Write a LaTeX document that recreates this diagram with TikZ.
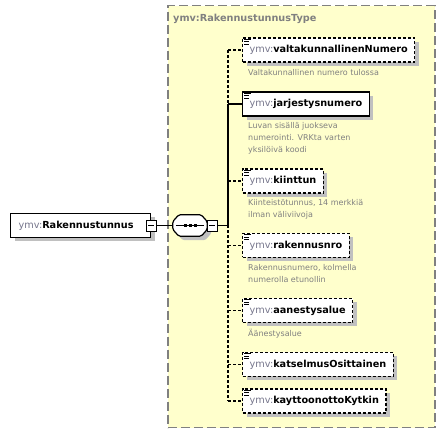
\documentclass[tikz,border=0pt]{standalone}
\usepackage{fontspec}
\setmainfont{DejaVu Sans}
\usetikzlibrary{positioning,calc,shadows}
\definecolor{typefill}{RGB}{255,255,204}
\definecolor{typeborder}{RGB}{128,128,128}
\definecolor{nsgray}{RGB}{118,118,140}
\definecolor{descgray}{RGB}{128,128,128}
\definecolor{shadowgray}{RGB}{192,192,192}
\newcommand{\ymv}[1]{\textcolor{nsgray}{ymv:}\textbf{#1}}

\begin{document}
\begin{tikzpicture}[x=1pt, y=-1pt]
  \tikzstyle{boxshadow}=[general shadow={fill=shadowgray, draw=none, shadow xshift=4pt, shadow yshift=-4pt}]
  \tikzstyle{elem}=[draw, fill=white, line width=1.2pt, anchor=west, minimum height=24pt, inner xsep=7pt,
    font=\fontsize{9.7}{11}\selectfont, boxshadow]
  \tikzstyle{optional}=[elem, dash pattern=on 3pt off 2pt]
  \tikzstyle{desc}=[anchor=north west, align=left, inner sep=0pt, text=descgray, font=\fontsize{8}{12}\selectfont]
  \tikzstyle{minus}=[draw, fill=white, line width=0.8pt, minimum width=10pt, minimum height=11pt, inner sep=0pt,
    path picture={\draw[line width=0.8pt] ($(path picture bounding box.west)+(2pt,0)$) -- ($(path picture bounding box.east)+(-2pt,0)$);}]
  \tikzstyle{conn}=[line width=1.1pt]
  \tikzstyle{optconn}=[conn, dash pattern=on 3pt off 2pt]
  \useasboundingbox (0,0) rectangle (445,435);

  % complex type container
  \node[draw=typeborder, fill=typefill, line width=1.5pt, dash pattern=on 9pt off 4pt, anchor=north west,
    minimum width=267pt, minimum height=422pt] (type) at (167,5) {};
  \node[anchor=west, inner sep=0pt, text=typeborder, font=\fontsize{9.7}{11}\selectfont\bfseries] (title) at (173,19) {ymv:RakennustunnusType};

  % root element and sequence
  \node[elem, inner xsep=8pt, text width=124pt, align=left] (root) at (10,225.5) {\ymv{Rakennustunnus}};
  \node[minus] (m1) at (151,225.5) {};
  \node[minimum width=34pt, minimum height=21pt, inner sep=0pt] (seq) at (190,225.5) {};
  \draw[line width=1.2pt, fill=white, rounded corners=1.5pt, boxshadow]
    ($(seq.west)+(0,-4)$) -- ($(seq.north west)+(6,0)$) -- ($(seq.north east)+(-6,0)$) -- ($(seq.east)+(0,-4)$)
    -- ($(seq.east)+(0,4)$) -- ($(seq.south east)+(-6,0)$) -- ($(seq.south west)+(6,0)$) -- ($(seq.west)+(0,4)$) -- cycle;
  \draw[line width=1pt] ($(seq.west)+(3,0)$) -- ($(seq.east)+(-3,0)$);
  \foreach \dx in {-5,0,5}
    \fill ($(seq)+(\dx,0)+(-1.5,-1.5)$) rectangle ++(3,3);
  \node[minus] (m2) at (212,225.5) {};
  \draw[conn] (m1.east) -- (seq.west);
  \coordinate (trunk) at (228,0);

  % child elements
  \node[optional] (c1) at (242,50) {\ymv{valtakunnallinenNumero}};
  \node[desc] (d1) at (248,69) {Valtakunnallinen numero tulossa};
  \node[elem] (c2) at (242,104) {\ymv{jarjestysnumero}};
  \node[desc] (d2) at (248,122) {Luvan sisällä juokseva\\numerointi. VRKta varten\\yksilöivä koodi};
  \node[optional] (c3) at (242,181) {\ymv{kiinttun}};
  \node[desc] (d3) at (248,199) {Kiinteistötunnus, 14 merkkiä\\ilman väliviivoja};
  \node[optional] (c4) at (242,245.5) {\ymv{rakennusnro}};
  \node[desc] (d4) at (248,264) {Rakennusnumero, kolmella\\numerolla etunollin};
  \node[optional] (c5) at (242,310.5) {\ymv{aanestysalue}};
  \node[desc] (d5) at (248,329) {Äänestysalue};
  \node[optional] (c6) at (242,364.5) {\ymv{katselmusOsittainen}};
  \node[optional] (c7) at (242,401) {\ymv{kayttoonottoKytkin}};

  % documentation marks
  \foreach \n in {c1,c2,c3,c4,c5,c6,c7}
    \foreach \dy/\len in {2/7,4.5/5,7/5}
      \draw[line width=0.8pt] ($(\n.north west)+(2,\dy)$) -- ++(\len,0);

  % connectors
  \draw[conn] (m2.east) -- (m2.east -| trunk);
  \draw[optconn] (trunk |- c1.west) -- (trunk |- c2.west);
  \draw[conn] (trunk |- c2.west) -- (trunk |- m2.east);
  \draw[optconn] (trunk |- m2.east) -- (trunk |- c7.west);
  \draw[conn] (trunk |- c2.west) -- (c2.west);
  \foreach \n in {c1,c3,c4,c5,c6,c7}
    \draw[optconn] (trunk |- \n.west) -- (\n.west);
\end{tikzpicture}
\end{document}
